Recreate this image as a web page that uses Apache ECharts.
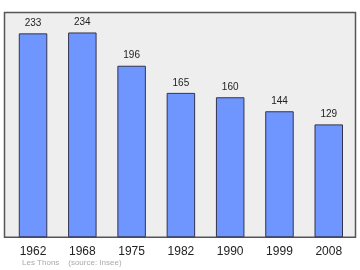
<!DOCTYPE html>
<html><head><meta charset="utf-8">
<script src="https://cdn.jsdelivr.net/npm/echarts@6/dist/echarts.min.js"></script>
<style>html,body{margin:0;padding:0;background:#fff}#c{width:360px;height:270px}</style>
</head><body><div id="c"></div>
<script>
var categories = ['1962','1968','1975','1982','1990','1999','2008'];
var population = [233,234,196,165,160,144,129];
var footer = 'Les Thons    (source: Insee)';

var chart = echarts.init(document.getElementById('c'), null, {renderer:'canvas'});
chart.setOption({
  animation:false,
  backgroundColor:'#ffffff',
  graphic:[
    {type:'rect', z:-10, shape:{x:4.5,y:12.5,width:351,height:224.8}, style:{fill:'#eeeeee', stroke:'#555555', lineWidth:1.5}},
    {type:'text', left:22, top:258.5, style:{text:footer, fill:'#aaaaaa', font:'8px "Liberation Sans", Arial, sans-serif'}}
  ],
  grid:{left:8.4, right:6.6, top:12, bottom:32.7, containLabel:false},
  xAxis:{type:'category', data:categories,
    axisLine:{show:false}, axisTick:{show:false},
    axisLabel:{color:'#222', fontSize:12, fontFamily:'"Liberation Sans", Arial, sans-serif', margin:8}},
  yAxis:{type:'value', min:0, max:257.4, show:false, splitLine:{show:false}},
  series:[{type:'bar', data:population, barWidth:28.5,
    itemStyle:{color:'#6f96ff', borderColor:'#33334d', borderWidth:1},
    label:{show:true, position:'top', distance:5, color:'#222', fontSize:10, fontFamily:'"Liberation Sans", Arial, sans-serif'}}]
});
</script></body></html>
